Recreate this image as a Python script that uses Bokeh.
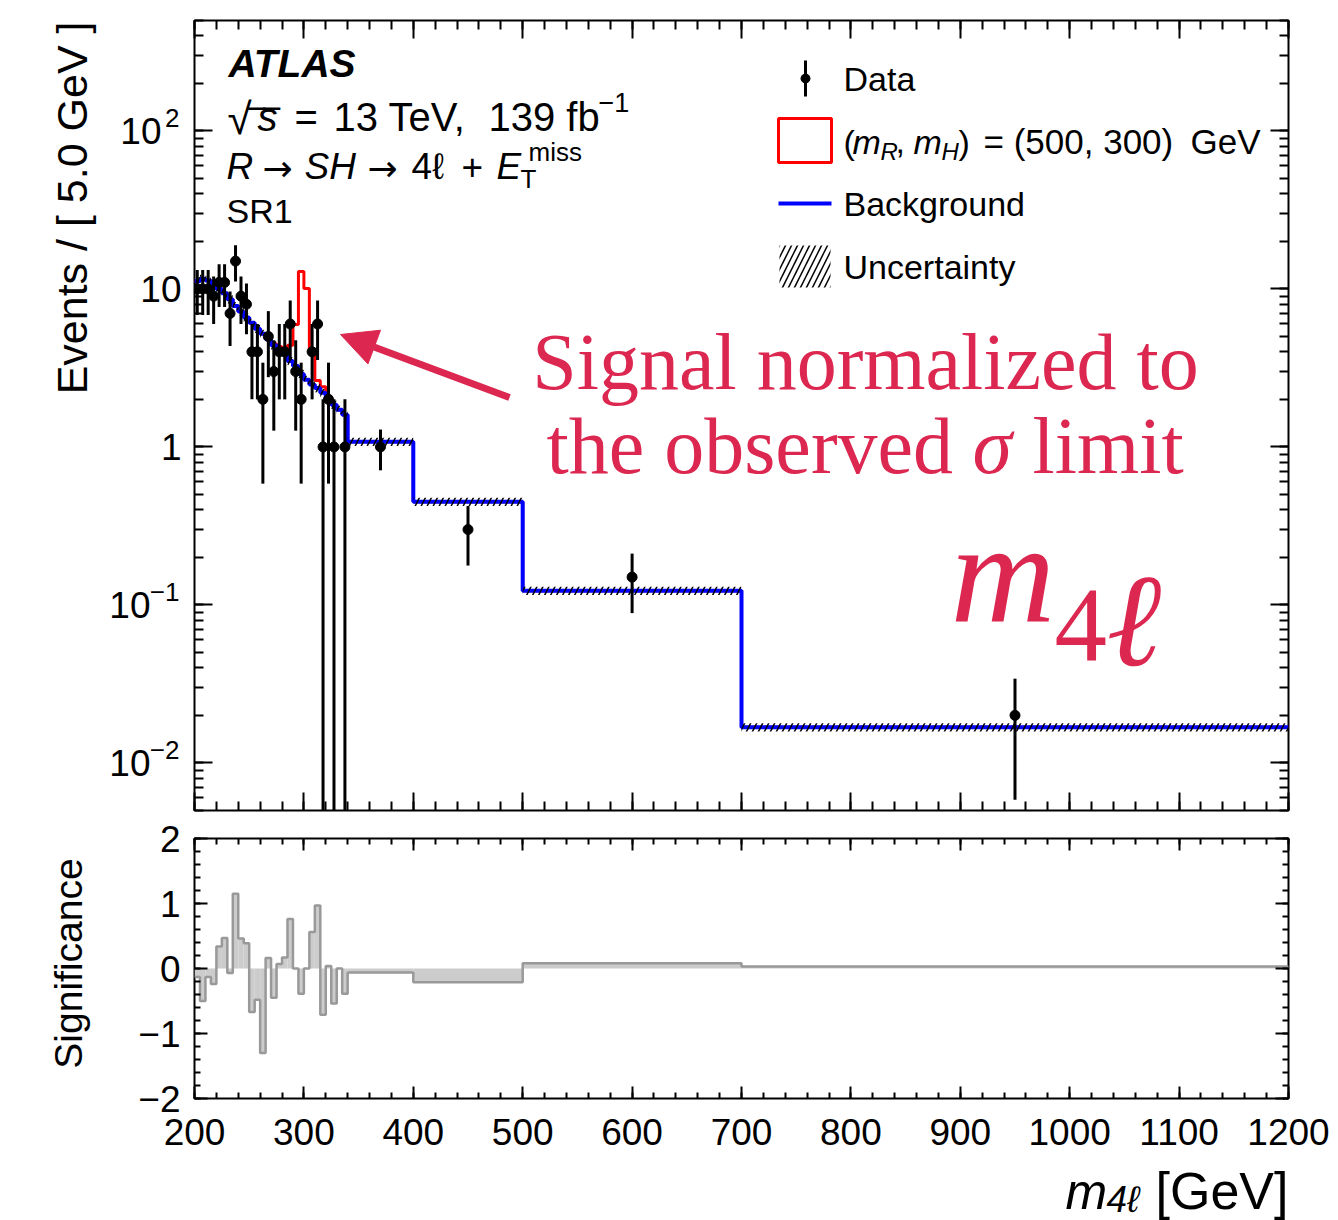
import numpy as np
from bokeh.plotting import figure
from bokeh.layouts import column, row
from bokeh.models import (Range1d, FixedTicker, LinearAxis, LogAxis, Label, Arrow,
                          NormalHead, CustomJSTickFormatter)
from bokeh.embed import file_html
from bokeh.resources import INLINE

# ---------------- binning ----------------
fine_edges = list(range(200, 341, 5))          # 5 GeV bins, 200-340 GeV
wide_edges = [340, 400, 500, 700, 1200]        # wide bins above 340 GeV
edges = np.array(fine_edges + wide_edges[1:], dtype=float)

# observed events per bin
fine_counts = [10, 10, 10, 9, 11, 11, 7, 15, 9, 8, 4, 4, 2, 5,
               3, 4, 4, 6, 3, 2, 0, 4, 6, 1, 2, 1, 0, 1]
wide_counts = [12, 6, 6, 2]

# expected background, events / 5 GeV
bkg_fine = [11.2, 11.6, 11.3, 10.8, 10.0, 9.4, 8.6, 7.8, 7.2, 6.6, 6.1, 5.6, 5.2, 4.8,
            4.4, 4.1, 3.85, 3.5, 3.25, 2.9, 2.66, 2.48, 2.36, 2.2, 2.04, 1.85, 1.72, 1.6]
bkg_wide = [1.08, 0.45, 0.123, 0.0168]
bkg_rel_unc = 0.06

# signal (mR, mH) = (500, 300) GeV on top of background, events / 5 GeV
signal_fine = [0, 0, 0, 0, 0, 0, 0, 0, 0, 0, 0, 0, 0, 0,
               0.1, 0.2, 0.35, 0.9, 2.7, 10.0, 7.4, 1.7, 0.27, 0.2, 0.05, 0, 0, 0]
signal_wide = [0, 0, 0, 0]

# significance per bin
signif_fine = [-0.13, -0.50, -0.13, -0.24, 0.34, 0.47, -0.07, 1.15, 0.46, 0.39,
               -0.67, -0.48, -1.30, 0.16, -0.45, 0.07, 0.17, 0.76, 0.0, -0.39,
               0.0, 0.56, 0.97, -0.71, 0.04, -0.54, 0.0, -0.39]
signif_wide = [-0.06, -0.21, 0.08, 0.03]

x_major = list(range(200, 1201, 100))
x_minor = list(range(200, 1201, 20))
y_decades = [-2, -1, 0, 1, 2]

SANS = "Liberation Sans"
SERIF = "Liberation Serif"
CRIMSON = "#dc2850"

# ---------------- derived arrays ----------------
counts = np.array(fine_counts + wide_counts, dtype=float)
widths = np.diff(edges)
norm = 5.0 / widths
centers = 0.5 * (edges[:-1] + edges[1:])
obs = counts * norm
err = np.sqrt(counts) * norm
has = counts > 0
lo = np.clip(obs - err, 1e-4, None)
hi = obs + err

bkg = np.array(bkg_fine + bkg_wide)
total = bkg + np.array(signal_fine + signal_wide)
signif = np.array(signif_fine + signif_wide)

# ---------------- page geometry ----------------
W = 1338
X0, X1 = 200.0, 1200.0
Y0, Y1 = 0.005, 500.0
FL, FR, FT, FB = 194, 1288, 20, 810          # main frame edges on the page
H1 = 814                                      # main panel height
L1W = 184                                     # left text strip of the main panel
S_TOP, S_FRAME, S_BOT = 24, 260, 62           # significance panel borders / frame
H2 = S_TOP + S_FRAME + S_BOT
ST, SB = H1 + S_TOP, H1 + S_TOP + S_FRAME     # significance frame edges on the page
L2W = 120
H3 = 1220 - H1 - H2                           # strip holding the x-axis title

BLANK = CustomJSTickFormatter(code="return '';")


def xd(px):
    return X0 + (px - FL) / (FR - FL) * (X1 - X0)


def log_py(v):
    l0, l1 = np.log10(Y0), np.log10(Y1)
    return FT + (l1 - np.log10(v)) / (l1 - l0) * (FB - FT)


def yd(py):
    l0, l1 = np.log10(Y0), np.log10(Y1)
    return 10 ** (l1 - (py - FT) / (FB - FT) * (l1 - l0))


def style_axis(ax, major_in, minor_in, show_labels=False, size="37px", hidden_size="8px"):
    ax.major_tick_in = major_in
    ax.major_tick_out = 0
    ax.minor_tick_in = minor_in
    ax.minor_tick_out = 0
    ax.major_tick_line_width = 2
    ax.minor_tick_line_width = 2
    ax.axis_line_color = None
    if show_labels:
        ax.major_label_text_font = SANS
        ax.major_label_text_font_size = size
        ax.major_label_text_color = "black"
    else:
        ax.formatter = BLANK
        ax.major_label_text_font_size = hidden_size
        ax.major_label_standoff = 0


def text_strip(w, h, top, bottom, y_top, y_bottom):
    """Blank plot whose frame matches its neighbour; y is page pixels (down)."""
    f = figure(width=w, height=h, x_range=Range1d(0, w), y_range=Range1d(y_bottom, y_top),
               output_backend="svg", toolbar_location=None, title=None,
               x_axis_location=None, y_axis_location=None,
               min_border_left=0, min_border_right=0,
               min_border_top=top, min_border_bottom=bottom)
    f.outline_line_color = None
    f.grid.visible = False
    return f


def lab(fig, x, y, text, size, style="normal", font=SANS, align="left", color="black", angle=0.0):
    fig.add_layout(Label(x=x, y=y, text=text, text_font=font, text_font_size=f"{size}px",
                         text_font_style=style, text_align=align, text_baseline="middle",
                         text_color=color, angle=angle))


# ---------------- main panel ----------------
p1 = figure(width=W - L1W, height=H1, y_axis_type="log", title=None,
            x_range=Range1d(X0, X1), y_range=Range1d(Y0, Y1),
            output_backend="svg", toolbar_location=None,
            min_border_left=FL - L1W, min_border_right=W - FR,
            min_border_top=FT, min_border_bottom=H1 - FB)
p1.outline_line_color = "black"
p1.outline_line_width = 2
p1.grid.visible = False

xt = FixedTicker(ticks=x_major, minor_ticks=x_minor)
yt = FixedTicker(ticks=[10.0 ** e for e in y_decades],
                 minor_ticks=[m * 10.0 ** e for e in range(-3, 3) for m in range(1, 10)])
p1.xaxis.ticker = xt
p1.yaxis.ticker = yt
style_axis(p1.xaxis[0], 18, 9, hidden_size="1px")
style_axis(p1.yaxis[0], 18, 9)
top_ax = LinearAxis(ticker=xt)
style_axis(top_ax, 18, 9)
p1.add_layout(top_ax, "above")
right_ax = LogAxis(ticker=yt)
style_axis(right_ax, 18, 9)
p1.add_layout(right_ax, "right")

# signal + background outline
p1.step(edges, np.append(total, total[-1]), mode="after", line_color="#ff0000", line_width=3)
# background
p1.step(edges, np.append(bkg, bkg[-1]), mode="after", line_color="#0000ff", line_width=4)
# background uncertainty band, hatched over the line
p1.quad(left=edges[:-1], right=edges[1:], bottom=bkg * (1 - bkg_rel_unc), top=bkg * (1 + bkg_rel_unc),
        fill_color=None, line_color=None, hatch_pattern="/", hatch_color="black",
        hatch_weight=1.5, hatch_scale=12)
# data
p1.segment(x0=centers[has], y0=lo[has], x1=centers[has], y1=hi[has], line_color="black", line_width=3)
p1.scatter(centers[has], obs[has], size=10, color="black")


def put(px, py, text, size, **kw):
    lab(p1, xd(px), yd(py), text, size, **kw)


# experiment block
put(228, 63, "ATLAS", 39, style="bold italic")
put(227, 118, "\u221a", 44)
put(249, 127, "\u203e\u203e", 44)
put(257, 116, "s", 40, style="italic")
put(294, 116, "=", 40)
put(333, 116, "13 TeV,", 40)
put(488, 116, "139 fb", 40)
put(598, 102, "\u22121", 27)
put(226, 166, "R", 37, style="italic")
put(262, 168, "\u2192", 36, font="DejaVu Sans")
put(304, 166, "SH", 37, style="italic")
put(367, 168, "\u2192", 36, font="DejaVu Sans")
put(411, 166, "4\u2113", 37)
put(461, 166, "+", 37)
put(496, 166, "E", 37, style="italic")
put(520, 178, "T", 26)
put(528, 151, "miss", 26)
put(226, 210, "SR1", 34)

# legend
LX = 843
p1.segment(x0=[xd(805)], y0=[yd(60)], x1=[xd(805)], y1=[yd(96)], line_color="black", line_width=3)
p1.scatter([xd(805)], [yd(78)], size=9, color="black")
put(LX, 78, "Data", 34)
p1.quad(left=[xd(778)], right=[xd(831)], top=[yd(118)], bottom=[yd(162)],
        fill_color=None, line_color="#ff0000", line_width=3)
put(LX, 141, "(", 34)
put(852, 141, "m", 34, style="italic")
put(880, 151, "R", 24, style="italic")
put(895, 141, ",", 34)
put(913, 141, "m", 34, style="italic")
put(941, 151, "H", 24, style="italic")
put(958, 141, ")", 34)
put(983, 141, "= (500, 300)", 35)
put(1190, 141, "GeV", 35)
p1.segment(x0=[xd(778)], y0=[yd(203)], x1=[xd(831)], y1=[yd(203)], line_color="#0000ff", line_width=4)
put(LX, 203, "Background", 34)
p1.quad(left=[xd(779)], right=[xd(830)], top=[yd(245)], bottom=[yd(287)],
        fill_color=None, line_color=None, hatch_pattern="/", hatch_color="black",
        hatch_weight=1.5, hatch_scale=12)
put(LX, 266, "Uncertainty", 34)

# annotation
put(865, 361, "Signal normalized to", 80, font=SERIF, align="center", color=CRIMSON)
put(546, 445, "the observed", 80, font=SERIF, color=CRIMSON)
put(972, 445, "\u03c3", 80, font=SERIF, style="italic", color=CRIMSON)
put(1032, 445, "limit", 80, font=SERIF, color=CRIMSON)
p1.add_layout(Arrow(end=NormalHead(size=36, fill_color=CRIMSON, line_color=CRIMSON),
                    x_start=xd(509), y_start=yd(397), x_end=xd(340), y_end=yd(334),
                    line_color=CRIMSON, line_width=7))
put(950, 572, "m", 145, font=SERIF, style="italic", color=CRIMSON)
put(1054, 624, "4", 105, font=SERIF, color=CRIMSON)
put(1106, 620, "\u2113", 132, font=SERIF, style="italic", color=CRIMSON)

# left strip: log-axis labels and title (page coordinates)
L1 = text_strip(L1W, H1, FT, H1 - FB, FT, FB)
sup_txt = {2: "2", -1: "\u22121", -2: "\u22122"}
sup_w = {2: 18, -1: 29, -2: 29}
for e in y_decades:
    py = log_py(10.0 ** e)
    if e in (0, 1):
        lab(L1, 181, py, "1" if e == 0 else "10", 37, align="right")
    else:
        lab(L1, 179 - sup_w[e], py, "10", 37, align="right")
        lab(L1, 179, py - 13, sup_txt[e], 26, align="right")
lab(L1, 71, 21, "Events / [ 5.0 GeV ]", 43, align="right", angle=np.pi / 2)

# ---------------- significance panel ----------------
p2 = figure(width=W - L2W, height=H2, x_range=p1.x_range, y_range=Range1d(-2, 2), title=None,
            output_backend="svg", toolbar_location=None,
            min_border_left=FL - L2W, min_border_right=W - FR,
            min_border_top=S_TOP, min_border_bottom=S_BOT)
p2.outline_line_color = "black"
p2.outline_line_width = 2
p2.grid.visible = False

p2.quad(left=edges[:-1], right=edges[1:], bottom=0, top=signif, fill_color="#cccccc", line_color=None)
p2.step(edges, np.append(signif, signif[-1]), mode="after", line_color="#999999", line_width=2.5)

p2.xaxis.ticker = xt
st = FixedTicker(ticks=[-2, -1, 0, 1, 2], minor_ticks=[round(-2 + 0.2 * i, 1) for i in range(21)])
p2.yaxis.ticker = st
style_axis(p2.xaxis[0], 12, 6, show_labels=True)
p2.xaxis[0].major_label_standoff = 20
style_axis(p2.yaxis[0], 13, 6, show_labels=True)
p2.yaxis[0].major_label_standoff = 14
p2.yaxis[0].formatter = CustomJSTickFormatter(
    code="return tick < 0 ? '\u2212' + Math.abs(tick) : String(tick);")
top2 = LinearAxis(ticker=xt)
style_axis(top2, 12, 6, hidden_size="1px")
p2.add_layout(top2, "above")
right2 = LinearAxis(ticker=st)
style_axis(right2, 13, 6)
p2.add_layout(right2, "right")

L2 = text_strip(L2W, H2, S_TOP, S_BOT, ST, SB)
lab(L2, 68, 963, "Significance", 39, align="center", angle=np.pi / 2)

# bottom strip: x-axis title
Y3 = H1 + H2
T3 = text_strip(W, H3, 0, 0, Y3, 1220)
lab(T3, FR, 1190, "[GeV]", 52, align="right")
lab(T3, 1065, 1191, "m", 50, style="italic")
lab(T3, 1106, 1199, "4\u2113", 37, style="italic")

layout = column(row(L1, p1, spacing=0), row(L2, p2, spacing=0), T3, spacing=0)
open("out.html", "w").write(file_html(layout, INLINE))
